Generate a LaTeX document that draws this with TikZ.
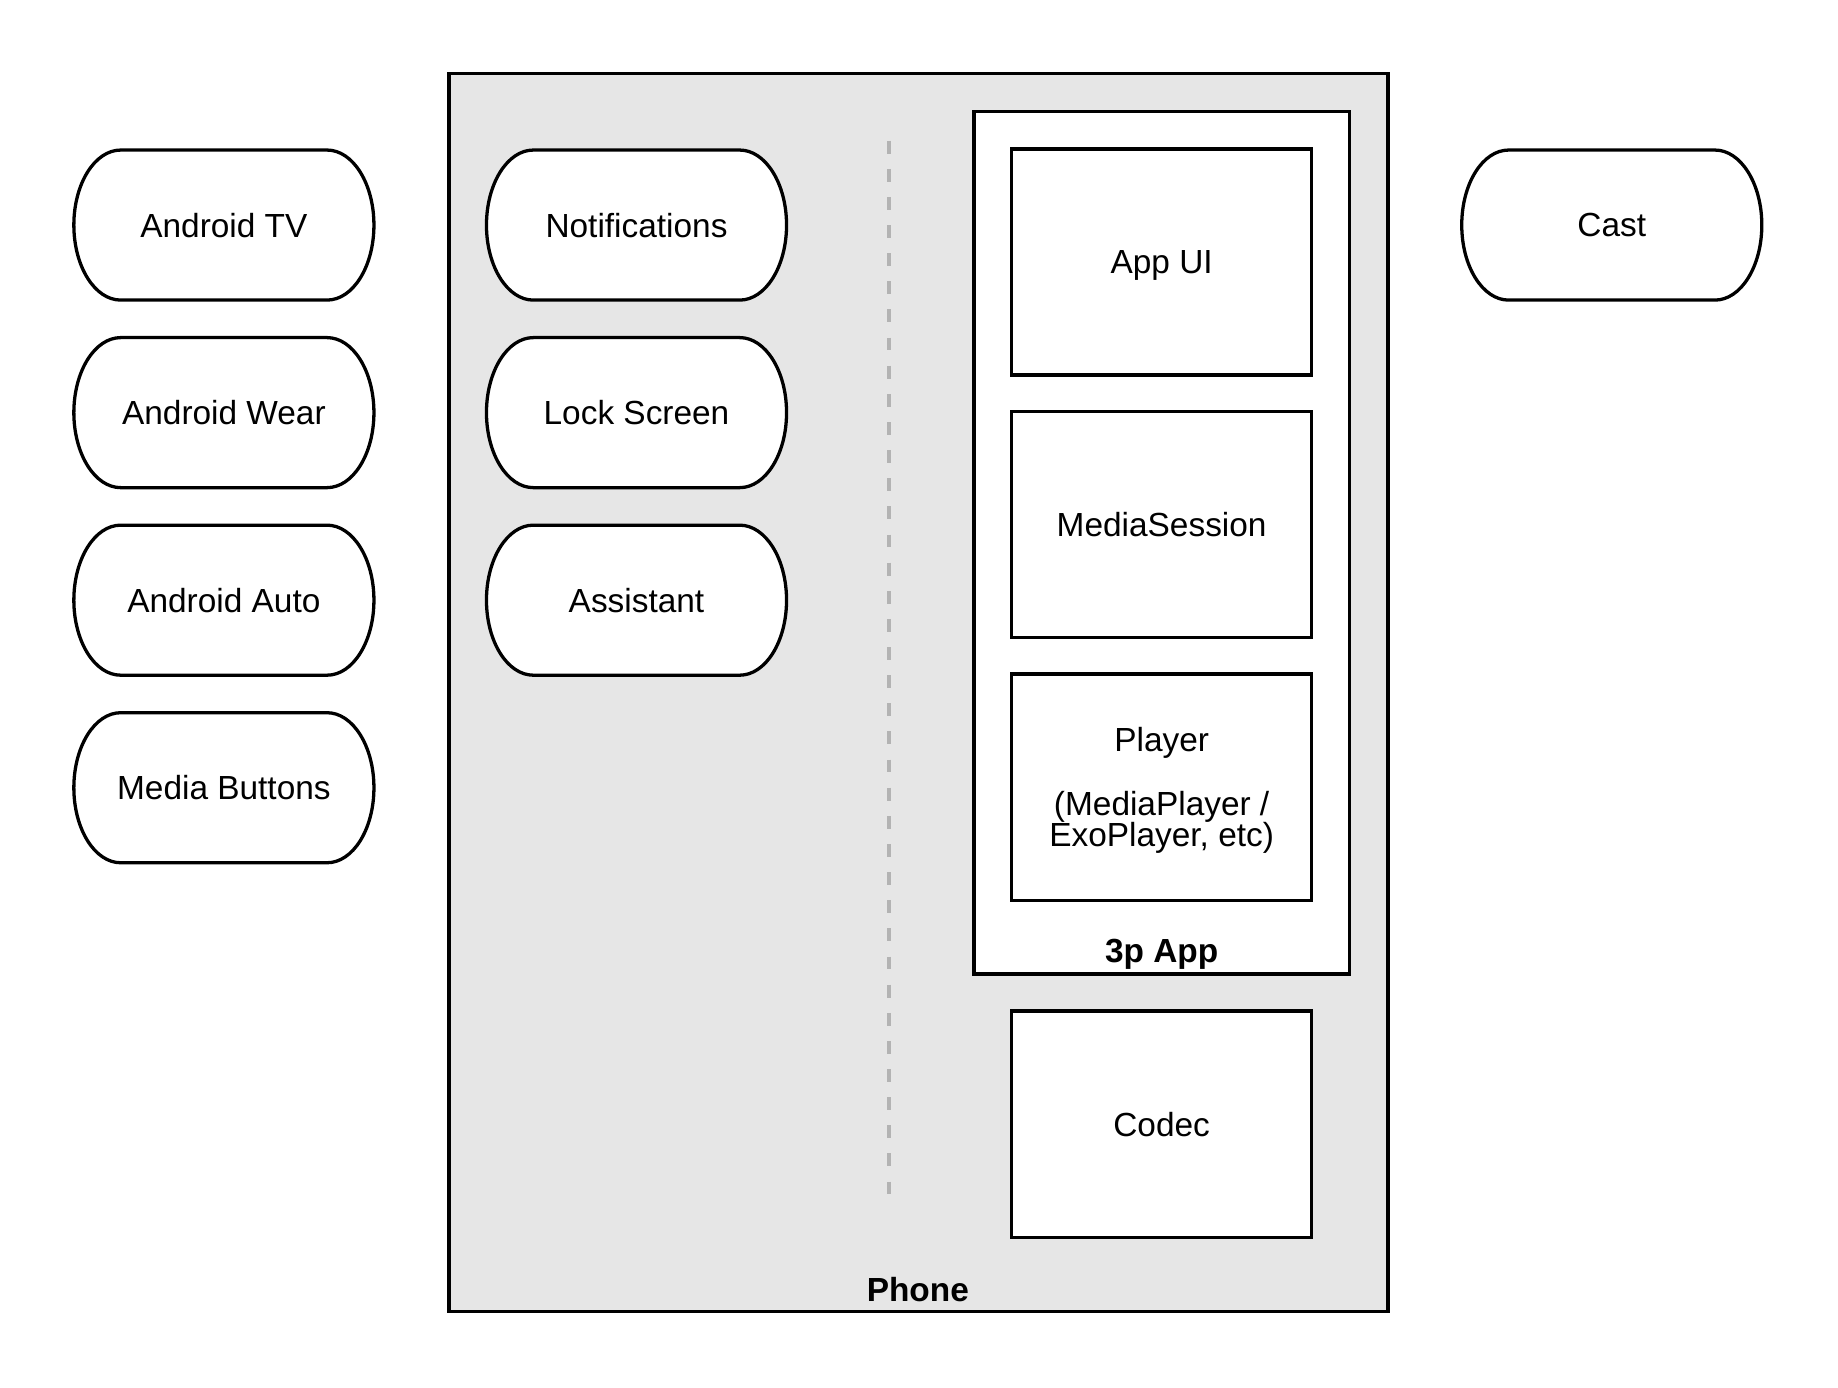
\documentclass[tikz,border=0pt]{standalone}
\usepackage{fontspec}
\setmainfont{Liberation Sans}
\definecolor{phonegray}{HTML}{E6E6E6}
\definecolor{dashgray}{HTML}{B3B3B3}
\newcommand{\dfont}{\fontsize{14.25}{13.5}\selectfont}

\begin{document}
\begin{tikzpicture}[
    x=0.5pt, y=-0.5pt,
    inner sep=0pt, %text sits in the middle
    pill/.style={rectangle, minimum width=134pt, minimum height=70pt,
        font=\dfont,
        path picture={\draw[line width=1.4pt, fill=white]
            (path picture bounding box.center) ++(-88,-64) -- ++(176,0)
            arc[start angle=-90, end angle=90, x radius=40, y radius=64]
            -- ++(-176,0)
            arc[start angle=90, end angle=270, x radius=40, y radius=64]
            -- cycle;}},
    box/.style={rectangle, draw=black, line width=1.4pt, fill=white,
        minimum width=128pt, minimum height=96.5pt, font=\dfont,
        align=center, text depth=0pt},
    frame/.style={rectangle, draw=black, line width=1.4pt},
    ]

    \useasboundingbox (0,0) rectangle (1568,1184);

    %Phone
    \node[frame, fill=phonegray, minimum width=400.5pt,
        minimum height=528pt] (phone) at (783.5,591) {};
    \node[font=\dfont\bfseries] (phonelbl) at (783,1100) {Phone};

    %outside devices
    \node[pill] (tv) at (191,192) {Android TV};
    \node[pill] (wear) at (191,352) {Android Wear};
    \node[pill] (auto) at (191,512) {Android Auto};
    \node[pill] (buttons) at (191,672) {Media Buttons};
    \node[pill] (cast) at (1375,192) {Cast};

    %system ui
    \node[pill] (notif) at (543,192) {Notifications};
    \node[pill] (lock) at (543,352) {Lock Screen};
    \node[pill] (assist) at (543,512) {Assistant};

    %divider
    \coordinate (divtop) at (758,120);
    \coordinate (divbot) at (758,1022);
    \draw[dashgray, line width=1.7pt, dash pattern=on 5.5pt off 6.5pt]
        (divtop) -- (divbot);

    %3p App
    \node[frame, fill=white, minimum width=160pt,
        minimum height=368pt] (app) at (991,463) {};
    \node[font=\dfont\bfseries] (applbl) at (991,814) {3p App};
    \node[box] (appui) at (991,223.5) {App UI};
    \node[box] (session) at (991,447.5) {MediaSession};
    \node[box] (player) at (991,671.5)
        {Player\\[13.5pt](MediaPlayer /\\ExoPlayer, etc)};

    %Codec
    \node[box] (codec) at (991,959) {Codec};

\end{tikzpicture}
\end{document}
